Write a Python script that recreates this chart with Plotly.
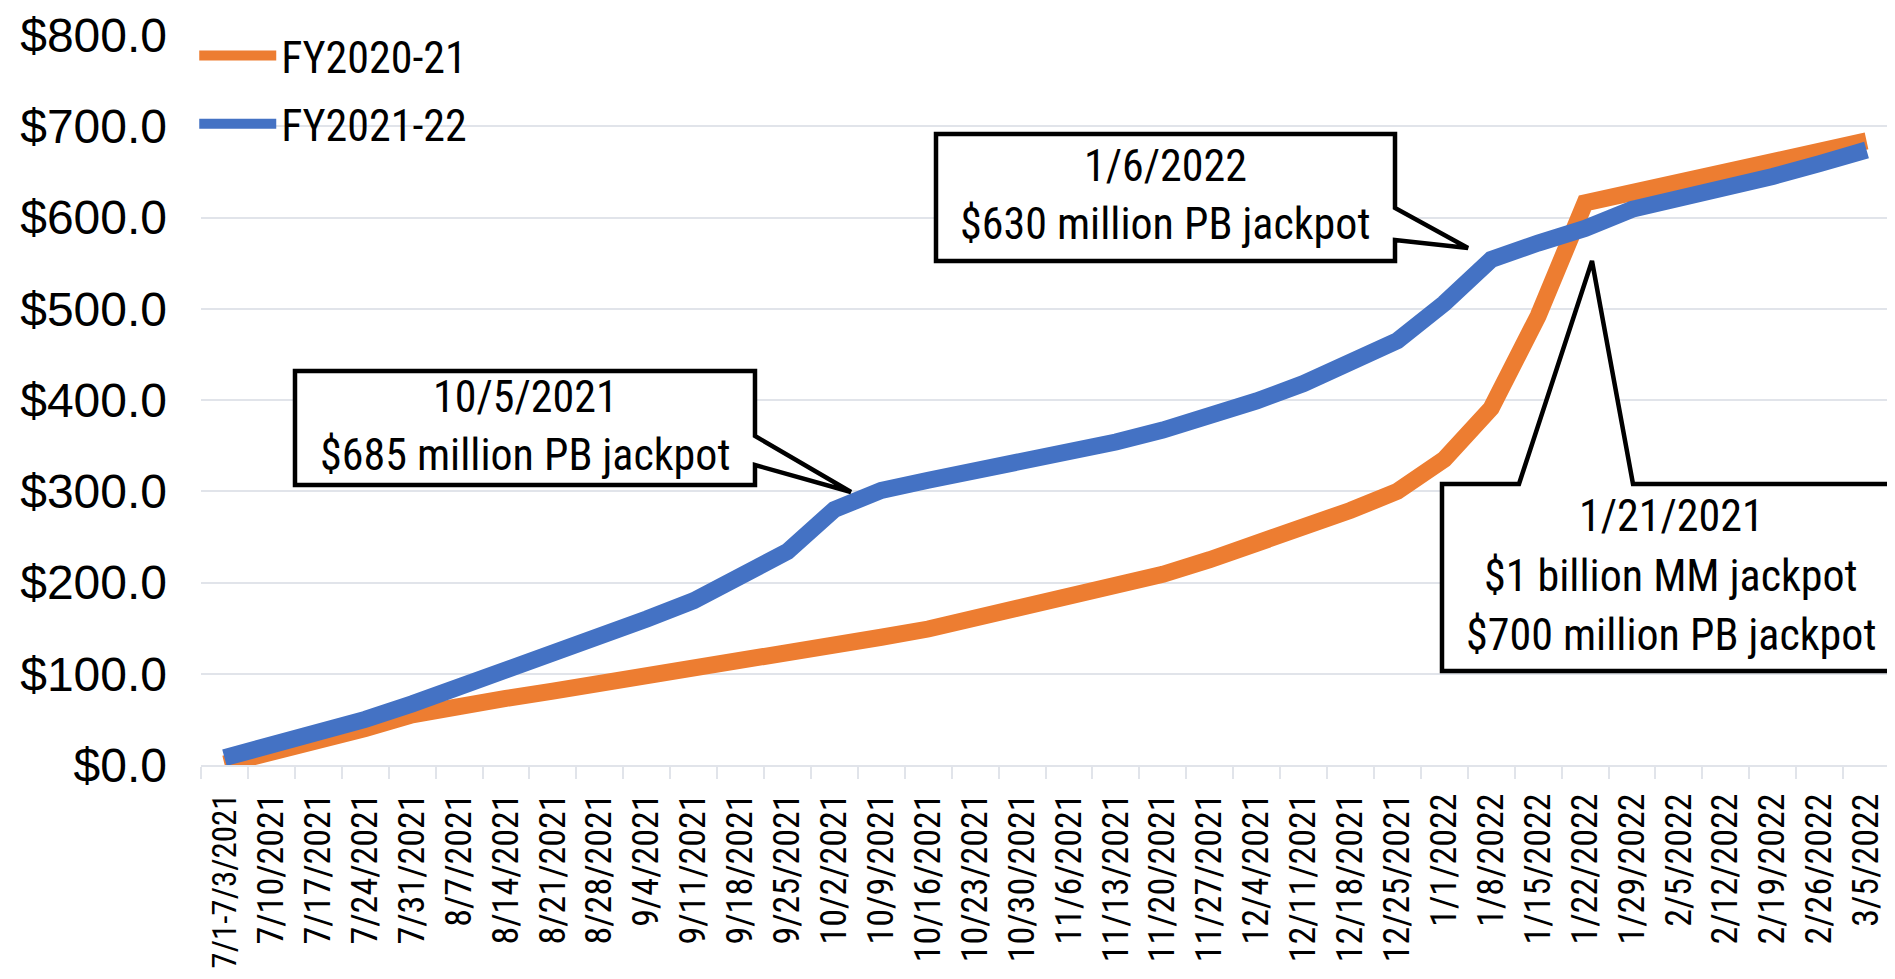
import plotly.graph_objects as go

# ---------------- data ----------------
weeks = ["7/1-7/3/2021", "7/10/2021", "7/17/2021", "7/24/2021", "7/31/2021", "8/7/2021",
         "8/14/2021", "8/21/2021", "8/28/2021", "9/4/2021", "9/11/2021", "9/18/2021",
         "9/25/2021", "10/2/2021", "10/9/2021", "10/16/2021", "10/23/2021", "10/30/2021",
         "11/6/2021", "11/13/2021", "11/20/2021", "11/27/2021", "12/4/2021", "12/11/2021",
         "12/18/2021", "12/25/2021", "1/1/2022", "1/8/2022", "1/15/2022", "1/22/2022",
         "1/29/2022", "2/5/2022", "2/12/2022", "2/19/2022", "2/26/2022", "3/5/2022"]

fy2020_21 = [1, 13, 26, 40, 55, 66, 73, 81, 89, 96, 104, 113,
             122, 130, 140, 149, 161, 172, 182, 194, 209, 225, 242, 260,
             279, 300, 335, 391, 492, 616, 627, 638, 649, 660, 672, 684]

fy2021_22 = [8, 21, 35, 50, 67, 85, 104, 122, 141, 160, 180, 206,
             234, 280, 301, 312, 322, 332, 343, 354, 367, 382, 399, 418,
             439, 465, 506, 554, 572, 588, 609, 620, 632, 645, 659, 674]

series_names = ["FY2020-21", "FY2021-22"]

callout_lines = [["10/5/2021", "$685 million PB jackpot"],
                 ["1/6/2022", "$630 million PB jackpot"],
                 ["1/21/2021", "$1 billion MM jackpot", "$700 million PB jackpot"]]

# ---------------- styling ----------------
W, H = 1895, 979
ML, MR, MT, MB = 193, 13, 27, 222
PW, PH = W - ML - MR, H - MT - MB

ORANGE = "#ED7D31"
BLUE = "#4472C4"
GRID = "#E1E4EA"
FONT = "Liberation Sans, Arial, sans-serif"
NARROW = "Roboto Condensed, Liberation Sans, Arial, sans-serif"


def px(x, y):
    """page pixel -> paper coordinates"""
    return (x - ML) / PW, (H - MB - y) / PH


def path(points):
    parts = []
    for i, (x, y) in enumerate(points):
        a, b = px(x, y)
        parts.append(("M" if i == 0 else "L") + f"{a:.5f},{b:.5f}")
    return " ".join(parts) + " Z"


# the long first label is set a little smaller so that it stays inside the page
ticktext = [f"<span style='font-size:33px'>{w}</span>" if len(w) > 10 else w for w in weeks]

fig = go.Figure()
fig.add_trace(go.Scatter(x=weeks, y=fy2020_21, name=series_names[0], mode="lines",
                         line=dict(color=ORANGE, width=17), legendgroup="a"))
fig.add_trace(go.Scatter(x=weeks, y=fy2021_22, name=series_names[1], mode="lines",
                         line=dict(color=BLUE, width=17), legendgroup="b"))

# callout outlines (box + pointer), in page pixels
outlines = [
    [(287, 363), (747, 363), (747, 428), (843, 484), (747, 457), (747, 477), (287, 477)],
    [(928, 126), (1387, 126), (1387, 200), (1460, 240), (1387, 232), (1387, 253), (928, 253)],
    [(1434, 476), (1511, 476), (1584, 253), (1625, 476), (1893, 476), (1893, 663), (1434, 663)],
]
line_centres = [(517, [389, 447]), (1157, [158, 216]), (1663, [508, 568, 627])]

shapes = []
for pts in outlines:
    shapes.append(dict(type="path", xref="paper", yref="paper", path=path(pts),
                       fillcolor="white", line=dict(color="black", width=4.5), layer="above"))

annotations = []
for lines, (cx, ys) in zip(callout_lines, line_centres):
    for txt, cy in zip(lines, ys):
        a, b = px(cx, cy)
        annotations.append(dict(xref="paper", yref="paper", x=a, y=b, text=txt, showarrow=False,
                                xanchor="center", yanchor="middle", align="center",
                                font=dict(family=NARROW, size=44, color="black")))

fig.update_layout(
    width=W, height=H,
    margin=dict(l=ML, r=MR, t=MT, b=MB, autoexpand=False),
    paper_bgcolor="white", plot_bgcolor="white",
    shapes=shapes, annotations=annotations,
    legend=dict(x=-0.004, y=1.02, xanchor="left", yanchor="top", bgcolor="rgba(0,0,0,0)",
                font=dict(family=NARROW, size=44, color="black"), tracegroupgap=8,
                itemwidth=77),
    xaxis=dict(type="category", range=[-0.5, len(weeks) - 0.5], showgrid=False,
               tickmode="array", tickvals=weeks, ticktext=ticktext,
               tickangle=-90, ticks="outside", tickson="boundaries", ticklen=12,
               tickwidth=2, tickcolor=GRID, showline=True, linecolor=GRID, linewidth=2,
               tickfont=dict(family=NARROW, size=36, color="black"),
               ticklabelstandoff=12, automargin=False, zeroline=False),
    yaxis=dict(range=[0, 800], dtick=100, tickprefix="$", tickformat=".1f",
               showgrid=True, gridcolor=GRID, gridwidth=2, zeroline=False,
               showline=False, ticks="", ticklabelstandoff=33,
               tickfont=dict(family=FONT, size=48, color="black"), automargin=False),
)

fig.write_html("out.html")
